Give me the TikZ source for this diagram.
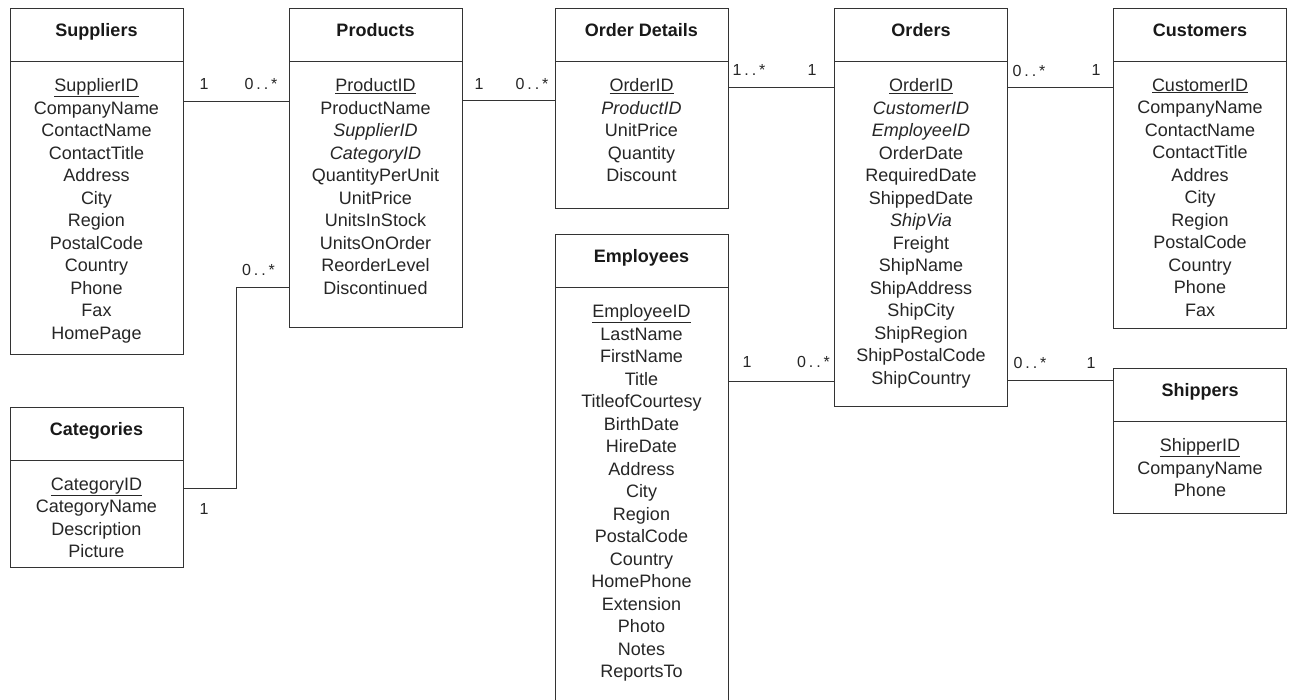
\documentclass[tikz,border=0pt]{standalone}
\usepackage{fontspec}
\setmainfont{Liberation Sans}
\usetikzlibrary{positioning}

\begin{document}
\begin{tikzpicture}[x=1pt, y=-1pt,
    headnode/.style={rectangle, draw=black!80, line width=1pt, outer sep=0pt, minimum width=173pt, minimum height=53pt, text height=13pt, text depth=11pt, font=\fontsize{18}{22}\selectfont\bfseries, text=black!90},
    bodynode/.style={rectangle, draw=black!80, line width=1pt, outer sep=0pt, minimum width=173pt},
    fieldnode/.style={align=center, inner sep=0pt, anchor=north, font=\fontsize{18}{22.5}\selectfont, text=black!85},
    cardnode/.style={inner sep=0pt, font=\fontsize{16}{18}\selectfont\addfontfeature{LetterSpace=18}, text=black!85},
    linkline/.style={draw=black!80, line width=1pt},
]
\useasboundingbox[fill=white] (0,0) rectangle (1291,700);

% tables
\node[headnode](sup) at (96.5,35.5) {Suppliers};
\node[bodynode, minimum height=293pt](supb)[below = 0pt of sup]{};
\node[fieldnode](supf) at ([yshift=-16.3pt]supb.north) {\underline{SupplierID}\\CompanyName\\ContactName\\ContactTitle\\Address\\City\\Region\\PostalCode\\Country\\Phone\\Fax\\HomePage};

\node[headnode](prod) at (375.5,35.5) {Products};
\node[bodynode, minimum height=266pt](prodb)[below = 0pt of prod]{};
\node[fieldnode](prodf) at ([yshift=-16.3pt]prodb.north) {\underline{ProductID}\\ProductName\\\textit{SupplierID}\\\textit{CategoryID}\\QuantityPerUnit\\UnitPrice\\UnitsInStock\\UnitsOnOrder\\ReorderLevel\\Discontinued};

\node[headnode](od) at (641.5,35.5) {Order Details};
\node[bodynode, minimum height=147pt](odb)[below = 0pt of od]{};
\node[fieldnode](odf) at ([yshift=-16.3pt]odb.north) {\underline{OrderID}\\\textit{ProductID}\\UnitPrice\\Quantity\\Discount};

\node[headnode](ord) at (921,35.5) {Orders};
\node[bodynode, minimum height=345pt](ordb)[below = 0pt of ord]{};
\node[fieldnode](ordf) at ([yshift=-16.3pt]ordb.north) {\underline{OrderID}\\\textit{CustomerID}\\\textit{EmployeeID}\\OrderDate\\RequiredDate\\ShippedDate\\\textit{ShipVia}\\Freight\\ShipName\\ShipAddress\\ShipCity\\ShipRegion\\ShipPostalCode\\ShipCountry};

\node[headnode](cus) at (1200,35.5) {Customers};
\node[bodynode, minimum height=267pt](cusb)[below = 0pt of cus]{};
\node[fieldnode](cusf) at ([yshift=-16.3pt]cusb.north) {\underline{CustomerID}\\CompanyName\\ContactName\\ContactTitle\\Addres\\City\\Region\\PostalCode\\Country\\Phone\\Fax};

\node[headnode](cat) at (96.5,434.5) {Categories};
\node[bodynode, minimum height=106pt](catb)[below = 0pt of cat]{};
\node[fieldnode](catf) at ([yshift=-16.3pt]catb.north) {\underline{CategoryID}\\CategoryName\\Description\\Picture};

\node[headnode](emp) at (641.5,261.5) {Employees};
\node[bodynode, minimum height=417pt](empb)[below = 0pt of emp]{};
\node[fieldnode](empf) at ([yshift=-16.3pt]empb.north) {\underline{EmployeeID}\\LastName\\FirstName\\Title\\TitleofCourtesy\\BirthDate\\HireDate\\Address\\City\\Region\\PostalCode\\Country\\HomePhone\\Extension\\Photo\\Notes\\ReportsTo};

\node[headnode](shp) at (1200,395.5) {Shippers};
\node[bodynode, minimum height=91pt](shpb)[below = 0pt of shp]{};
\node[fieldnode](shpf) at ([yshift=-16.3pt]shpb.north) {\underline{ShipperID}\\CompanyName\\Phone};

% relationships
\draw[linkline] ([yshift=-40pt]supb.north east) -- ([yshift=-40pt]prodb.north west);
\draw[linkline] ([yshift=-39pt]prodb.north east) -- ([yshift=-39pt]odb.north west);
\draw[linkline] ([yshift=-26pt]odb.north east) -- ([yshift=-26pt]ordb.north west);
\draw[linkline] ([yshift=-26pt]ordb.north east) -- ([yshift=-26pt]cusb.north west);
\draw[linkline] ([yshift=-94pt]empb.north east) -- ([yshift=-320pt]ordb.north west);
\draw[linkline] ([yshift=-319pt]ordb.north east) -- ([yshift=-12pt]shp.north west);
\draw[linkline] ([yshift=-27pt]catb.north east) -- ++(53pt,0) |- ([yshift=-226pt]prodb.north west);

% multiplicities
\node[cardnode](c1) at (204,84) {1};
\node[cardnode](c2) at (261,84) {0..*};
\node[cardnode](c3) at (479,84) {1};
\node[cardnode](c4) at (532,84) {0..*};
\node[cardnode](c5) at (749,70.5) {1..*};
\node[cardnode](c6) at (812,70.5) {1};
\node[cardnode](c7) at (1029,70.5) {0..*};
\node[cardnode](c8) at (1096,70.5) {1};
\node[cardnode](c9) at (747,362) {1};
\node[cardnode](c10) at (813.5,362) {0..*};
\node[cardnode](c11) at (1030,363) {0..*};
\node[cardnode](c12) at (1091,363) {1};
\node[cardnode](c13) at (258.5,270) {0..*};
\node[cardnode](c14) at (204,509) {1};
\end{tikzpicture}
\end{document}
